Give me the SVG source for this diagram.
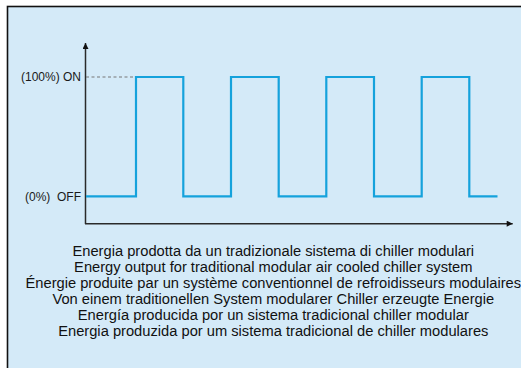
<svg xmlns="http://www.w3.org/2000/svg" width="521" height="368" viewBox="0 0 521 368">
<style>
.lbl{font-family:"Liberation Sans",Arial,sans-serif;font-size:12px;fill:#1a1a1a}
.cap{font-family:"Liberation Sans",Arial,sans-serif;font-size:14.7px;fill:#111;text-anchor:middle}
.axis{stroke:#2a2a2a;stroke-width:1.5;fill:none}
.wave{stroke:#15a2dc;stroke-width:2.2;fill:none}
</style>
<defs>
<marker id="arr" viewBox="0 0 10 10" refX="10" refY="5" markerWidth="4.5" markerHeight="4" orient="auto" markerUnits="strokeWidth">
<path d="M0,0 L10,5 L0,10 Z" fill="#111"/>
</marker>
</defs>
<rect x="0" y="0" width="521" height="368" fill="#ffffff"/>
<rect id="frame" x="7.5" y="6.5" width="520" height="370" fill="#d4eaf8" stroke="#111" stroke-width="1.6"/>
<g id="connectors">
<line class="axis" x1="85.5" y1="224" x2="85.5" y2="43" marker-end="url(#arr)"/>
<line class="axis" x1="85" y1="223.7" x2="512.7" y2="223.7" stroke="#4a4f55" marker-end="url(#arr)"/>
<line x1="86" y1="77" x2="136" y2="77" stroke="#777" stroke-width="1" stroke-dasharray="3,2.5"/>
<polyline class="wave" points="86,196.3 136,196.3 136,77 183.3,77 183.3,196.3 231,196.3 231,77 278.7,77 278.7,196.3 326.3,196.3 326.3,77 374,77 374,196.3 421.7,196.3 421.7,77 469.3,77 469.3,196.3 497.5,196.3"/>
</g>
<g id="label-on"><text class="lbl" x="81" y="80.7" text-anchor="end">(100%) ON</text></g>
<g id="label-off"><text class="lbl" x="81" y="200.5" text-anchor="end" xml:space="preserve">(0%)  OFF</text></g>
<g id="caption">
<text class="cap" x="273.3" y="255.7">Energia prodotta da un tradizionale sistema di chiller modulari</text>
<text class="cap" x="273.3" y="271.7">Energy output for traditional modular air cooled chiller system</text>
<text class="cap" x="273.3" y="287.7">Énergie produite par un système conventionnel de refroidisseurs modulaires</text>
<text class="cap" x="273.3" y="303.7">Von einem traditionellen System modularer Chiller erzeugte Energie</text>
<text class="cap" x="273.3" y="319.7">Energía producida por un sistema tradicional chiller modular</text>
<text class="cap" x="273.3" y="335.7">Energia produzida por um sistema tradicional de chiller modulares</text>
</g>
</svg>
